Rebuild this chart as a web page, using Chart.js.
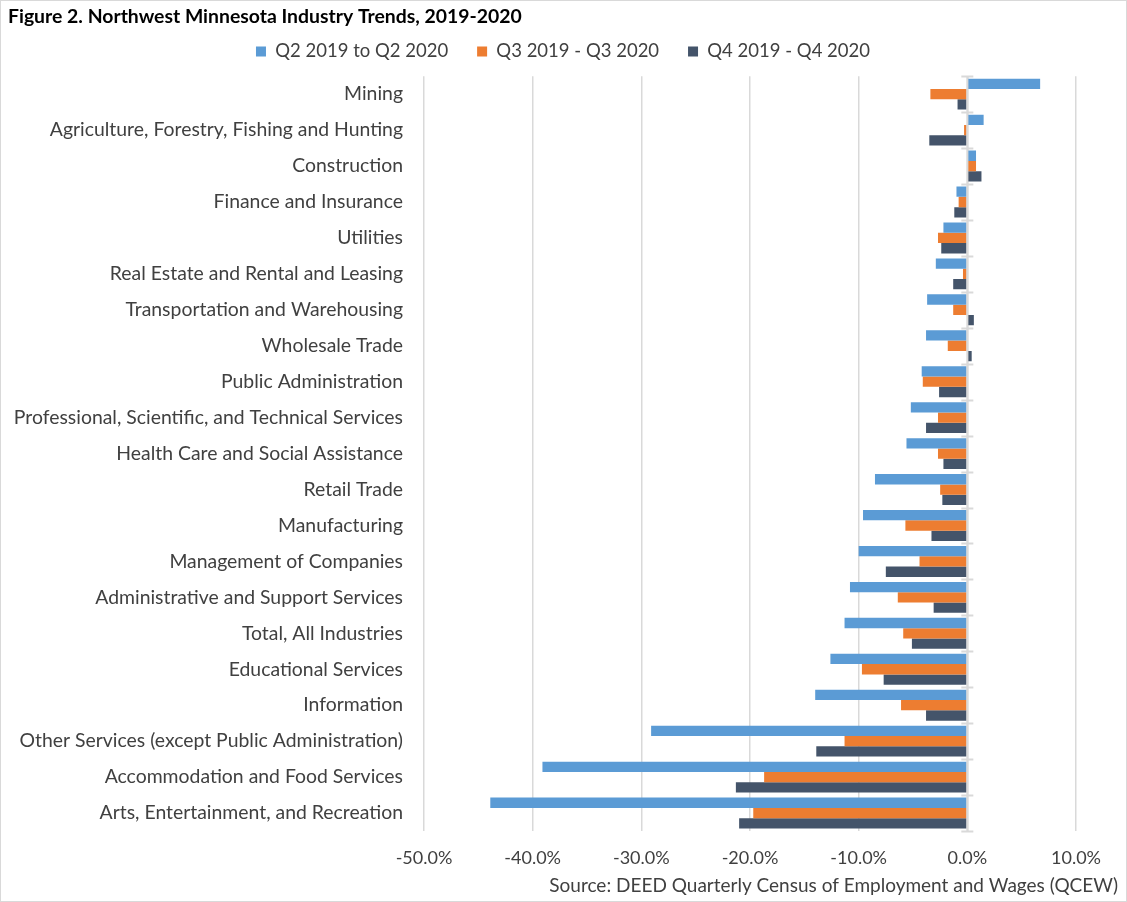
<!DOCTYPE html>
<html>
<head>
<meta charset="utf-8">
<script src="https://cdn.jsdelivr.net/npm/chart.js@4"></script>
<style>
  html, body { margin: 0; padding: 0; background: #fff; }
  #wrap { width: 1127px; height: 902px; box-sizing: border-box; border: 1px solid #d9d9d9; }
  canvas { display: block; }
</style>
</head>
<body>
<div id="wrap"><canvas id="chart" width="1125" height="900"></canvas></div>
<script>
// Industry order, top to bottom
const industries = [
    'Mining',
    'Agriculture, Forestry, Fishing and Hunting',
    'Construction',
    'Finance and Insurance',
    'Utilities',
    'Real Estate and Rental and Leasing',
    'Transportation and Warehousing',
    'Wholesale Trade',
    'Public Administration',
    'Professional, Scientific, and Technical Services',
    'Health Care and Social Assistance',
    'Retail Trade',
    'Manufacturing',
    'Management of Companies',
    'Administrative and Support Services',
    'Total, All Industries',
    'Educational Services',
    'Information',
    'Other Services (except Public Administration)',
    'Accommodation and Food Services',
    'Arts, Entertainment, and Recreation'
];

// percent change
const q2Change = [6.7, 1.5, 0.8, -1.0, -2.2, -2.9, -3.7, -3.8, -4.2, -5.2, -5.6, -8.5, -9.6, -10.0, -10.8, -11.3, -12.6, -14.0, -29.1, -39.1, -43.9];
const q3Change = [-3.4, -0.3, 0.8, -0.8, -2.7, -0.4, -1.3, -1.8, -4.1, -2.7, -2.7, -2.5, -5.7, -4.4, -6.4, -5.9, -9.7, -6.1, -11.3, -18.7, -19.7];
const q4Change = [-0.9, -3.5, 1.3, -1.2, -2.4, -1.3, 0.6, 0.4, -2.6, -3.8, -2.2, -2.3, -3.3, -7.5, -3.1, -5.1, -7.7, -3.8, -13.9, -21.3, -21.0];

const seriesNames = ['Q2 2019 to Q2 2020', 'Q3 2019 - Q3 2020', 'Q4 2019 - Q4 2020'];
const seriesColors = ['#5B9BD5', '#ED7D31', '#44546A'];
const xTicks = [-50, -40, -30, -20, -10, 0, 10];

const FONT = 'Lato, "Open Sans", sans-serif';
const GRID = '#d9d9d9';
const TEXT = '#404040';

/**
 * Zero axis line with the little cross ticks between categories.
 */
const zeroAxis = {
    id: 'zeroAxis',
    afterDatasetsDraw(chart) {
        const { ctx, chartArea, scales } = chart;
        const x0 = scales.x.getPixelForValue(0);
        const band = chartArea.height / industries.length;
        ctx.save();
        ctx.strokeStyle = GRID;
        ctx.lineWidth = 2;
        ctx.beginPath();
        ctx.moveTo(x0, chartArea.top);
        ctx.lineTo(x0, chartArea.bottom);
        for (let i = 0; i <= industries.length; i++) {
            const y = Math.round(chartArea.top + i * band) + 0.5;
            ctx.moveTo(x0 - 6, y);
            ctx.lineTo(x0 + 6, y);
        }
        ctx.stroke();
        ctx.restore();
    }
};

const datasets = [q2Change, q3Change, q4Change].map((values, i) => ({
    label: seriesNames[i],
    data: values,
    backgroundColor: seriesColors[i],
    borderWidth: 0,
    categoryPercentage: 0.86,
    barPercentage: 1.0
}));

// invisible spacer axes, only there to pin the plot area
const spacer = (position, size) => ({
    position: position,
    display: true,
    grid: { display: false, drawTicks: false },
    border: { display: false },
    ticks: { display: false },
    afterFit(scale) {
        if (scale.isHorizontal()) scale.height = size;
        else scale.width = size;
    }
});

new Chart(document.getElementById('chart'), {
    type: 'bar',
    data: { labels: industries, datasets: datasets },
    plugins: [zeroAxis],
    options: {
        indexAxis: 'y',
        responsive: false,
        animation: false,
        layout: { padding: { left: 7, right: 8, top: 0, bottom: 0 } },
        plugins: {
            title: {
                display: true,
                text: 'Figure 2. Northwest Minnesota Industry Trends, 2019-2020',
                align: 'start',
                color: '#000',
                font: { family: FONT, size: 19.4, weight: 'bold' },
                padding: { top: 4.4, bottom: 3.5 }
            },
            subtitle: {
                display: true,
                position: 'bottom',
                align: 'end',
                text: 'Source: DEED Quarterly Census of Employment and Wages (QCEW)',
                color: TEXT,
                font: { family: FONT, size: 19 },
                padding: { top: 6, bottom: 3.6 }
            },
            legend: {
                position: 'top',
                labels: {
                    color: TEXT,
                    font: { family: FONT, size: 18.5 },
                    boxWidth: 10,
                    boxHeight: 10,
                    padding: 10,
                    generateLabels(chart) {
                        const items = Chart.defaults.plugins.legend.labels.generateLabels(chart);
                        items.forEach((it, i) => {
                            if (i < items.length - 1) it.text += '    ';
                        });
                        return items;
                    }
                }
            },
            tooltip: { enabled: false }
        },
        scales: {
            x: {
                min: xTicks[0],
                max: xTicks[xTicks.length - 1],
                afterBuildTicks(scale) {
                    scale.ticks = xTicks.map(v => ({ value: v }));
                },
                grid: { color: GRID, lineWidth: 1.5, drawTicks: false },
                border: { display: false },
                ticks: {
                    color: TEXT,
                    font: { family: FONT, size: 18 },
                    padding: 16,
                    callback: v => v.toFixed(1) + '%'
                },
                afterFit(scale) {
                    scale.height = 37.6;
                }
            },
            y: {
                grid: { display: false, drawTicks: false },
                border: { display: false },
                ticks: {
                    color: TEXT,
                    font: { family: FONT, size: 19.4 },
                    padding: 21,
                    autoSkip: false
                },
                afterFit(scale) {
                    scale.width = 416;
                }
            },
            yRight: spacer('right', 42),
            xTop: spacer('top', 5.5)
        }
    }
});
</script>
</body>
</html>
